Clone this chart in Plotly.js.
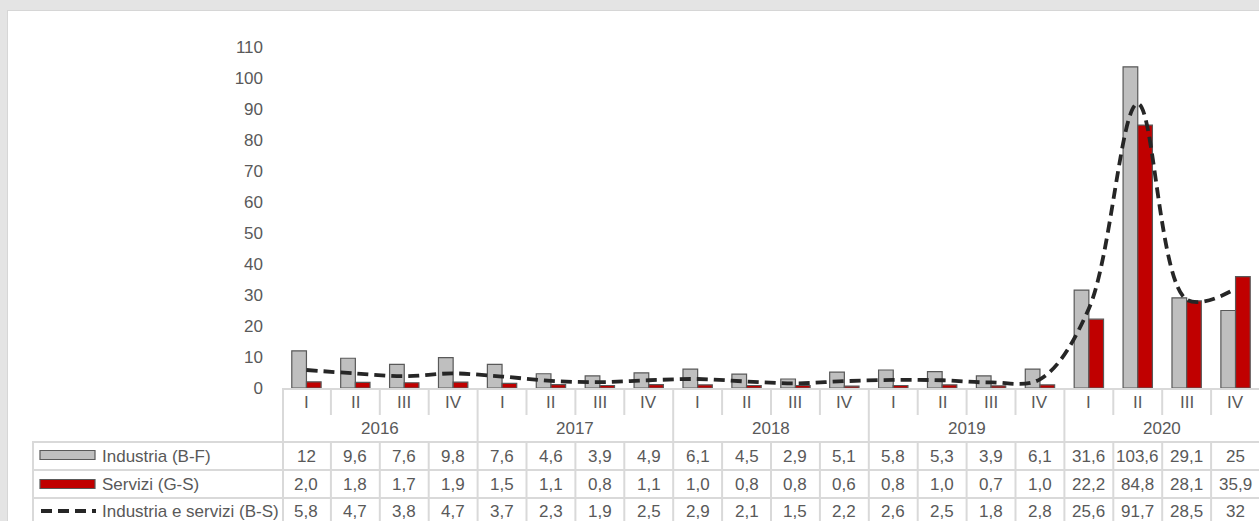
<!DOCTYPE html>
<html>
<head>
<meta charset="utf-8">
<script src="https://cdn.plot.ly/plotly-3.0.1.min.js"></script>
<style>
  html, body { margin:0; padding:0; background:#e4e4e4; width:1259px; height:521px; overflow:hidden; }
  #panel { position:absolute; left:7px; top:10px; width:1252px; height:511px; background:#ffffff; border-left:1px solid #d6d6d6; border-top:1px solid #d6d6d6; box-sizing:border-box; }
  #chart { position:absolute; left:0; top:0; width:1259px; height:521px; }
</style>
</head>
<body>
<div id="panel"></div>
<div id="chart"></div>
<script>
// ---- Data ----
var years = ["2016", "2017", "2018", "2019", "2020"];
var quarters = ["I", "II", "III", "IV"];
var industria = [12, 9.6, 7.6, 9.8, 7.6, 4.6, 3.9, 4.9, 6.1, 4.5, 2.9, 5.1, 5.8, 5.3, 3.9, 6.1, 31.6, 103.6, 29.1, 25];
var servizi = [2.0, 1.8, 1.7, 1.9, 1.5, 1.1, 0.8, 1.1, 1.0, 0.8, 0.8, 0.6, 0.8, 1.0, 0.7, 1.0, 22.2, 84.8, 28.1, 35.9];
var totale = [5.8, 4.7, 3.8, 4.7, 3.7, 2.3, 1.9, 2.5, 2.9, 2.1, 1.5, 2.2, 2.6, 2.5, 1.8, 2.8, 25.6, 91.7, 28.5, 32];
var seriesNames = ["Industria (B-F)", "Servizi (G-S)", "Industria e servizi (B-S)"];
var yTicks = [0, 10, 20, 30, 40, 50, 60, 70, 80, 90, 100, 110];

// ---- Layout helpers (pixel -> paper) ----
var PL = 282, PR = 1259, PT = 47, PB = 388;
function px(p) { return (p - PL) / (PR - PL); }
function py(p) { return (PB - p) / (PB - PT); }

var idx = [];
var romans = [];
for (var yi = 0; yi < years.length; yi++) {
  for (var qi = 0; qi < quarters.length; qi++) { idx.push(yi * 4 + qi); romans.push(quarters[qi]); }
}

function fmtGeneral(v) { return String(Math.round(v * 10) / 10).replace('.', ','); }
function fmtFixed(v) { return v.toFixed(1).replace('.', ','); }

var TXT = '#595959';
var FONT = 'Liberation Sans, Arial, sans-serif';
var GRID = '#d9d9d9';

var traces = [
  { type: 'bar', x: idx, y: industria, name: seriesNames[0],
    marker: { color: '#bfbfbf', line: { color: '#595959', width: 1.2 } }, hoverinfo: 'skip' },
  { type: 'bar', x: idx, y: servizi, name: seriesNames[1],
    marker: { color: '#c00000', line: { color: '#595959', width: 1.2 } }, hoverinfo: 'skip' },
  { type: 'scatter', mode: 'lines', x: idx, y: totale, name: seriesNames[2],
    line: { color: '#262626', width: 3.8, dash: '11px,6px', shape: 'spline', smoothing: 1 },
    cliponaxis: false, hoverinfo: 'skip' }
];

var annotations = [];
var shapes = [];

// Quarter labels
idx.forEach(function (k, i) {
  annotations.push({ xref: 'x', yref: 'paper', x: k, y: py(402), text: romans[i], showarrow: false,
    xanchor: 'center', yanchor: 'middle', font: { family: FONT, size: 17, color: TXT } });
});
// Year labels
years.forEach(function (yr, yi) {
  annotations.push({ xref: 'x', yref: 'paper', x: yi * 4 + 1.5, y: py(429), text: yr, showarrow: false,
    xanchor: 'center', yanchor: 'middle', font: { family: FONT, size: 17, color: TXT } });
});
// Data rows
var rows = [
  { vals: industria, fmt: fmtGeneral, yc: 456 },
  { vals: servizi, fmt: fmtFixed, yc: 484 },
  { vals: totale, fmt: fmtGeneral, yc: 511 }
];
rows.forEach(function (r, ri) {
  r.vals.forEach(function (v, k) {
    annotations.push({ xref: 'x', yref: 'paper', x: k, y: py(r.yc), text: r.fmt(v), showarrow: false,
      xanchor: 'center', yanchor: 'middle', font: { family: FONT, size: 17, color: TXT } });
  });
  annotations.push({ xref: 'paper', yref: 'paper', x: px(100), y: py(r.yc), text: seriesNames[ri], showarrow: false,
    xanchor: 'left', yanchor: 'middle', font: { family: FONT, size: 17, color: TXT } });
});

// Table grid
function vline(xv, xr, y0, y1) {
  shapes.push({ type: 'line', xref: xr, yref: 'paper', x0: xv, x1: xv, y0: py(y0), y1: py(y1),
    line: { color: GRID, width: 2 } });
}
for (var k = 1; k <= 20; k++) {
  var xb = k - 0.5;
  if (k % 4 === 0) { vline(xb, 'x', PB, 530); }
  else { vline(xb, 'x', PB, 415); vline(xb, 'x', 442, 530); }
}
vline(px(283), 'paper', PB, 530);
vline(px(33), 'paper', 442, 530);
[442, 470, 498].forEach(function (yy) {
  shapes.push({ type: 'line', xref: 'paper', yref: 'paper', x0: px(32), x1: 1.01, y0: py(yy), y1: py(yy),
    line: { color: GRID, width: 2 } });
});
shapes.push({ type: 'line', xref: 'paper', yref: 'paper', x0: px(282), x1: 1.01, y0: py(389), y1: py(389),
  line: { color: GRID, width: 2 } });

// Legend keys
shapes.push({ type: 'rect', xref: 'paper', yref: 'paper', x0: px(40), x1: px(95), y0: py(450.5), y1: py(459.5),
  fillcolor: '#bfbfbf', line: { color: '#595959', width: 1.2 } });
shapes.push({ type: 'rect', xref: 'paper', yref: 'paper', x0: px(40), x1: px(95), y0: py(479.5), y1: py(488.5),
  fillcolor: '#c00000', line: { color: '#595959', width: 1.2 } });
shapes.push({ type: 'line', xref: 'paper', yref: 'paper', x0: px(41), x1: px(96), y0: py(511), y1: py(511),
  line: { color: '#262626', width: 3.8, dash: '11px,6px' } });

var layout = {
  width: 1259, height: 521,
  paper_bgcolor: 'rgba(0,0,0,0)', plot_bgcolor: 'rgba(0,0,0,0)',
  margin: { l: PL, r: 1259 - PR, t: PT, b: 521 - PB, pad: 0 },
  showlegend: false,
  barmode: 'group', bargap: 0.4, bargroupgap: 0,
  font: { family: FONT, size: 17, color: TXT },
  xaxis: { range: [-0.5, -0.5 + (PR - PL) / 48.9], showticklabels: false, ticks: '', showgrid: false,
    zeroline: false, showline: false, fixedrange: true },
  yaxis: { range: [0, 110], tickvals: yTicks, ticktext: yTicks.map(String), showgrid: false, zeroline: false,
    showline: false, ticks: '', ticklabelstandoff: 18, tickfont: { family: FONT, size: 17, color: TXT }, fixedrange: true },
  annotations: annotations,
  shapes: shapes
};

Plotly.newPlot('chart', traces, layout, { displayModeBar: false, staticPlot: true });
</script>
</body>
</html>
